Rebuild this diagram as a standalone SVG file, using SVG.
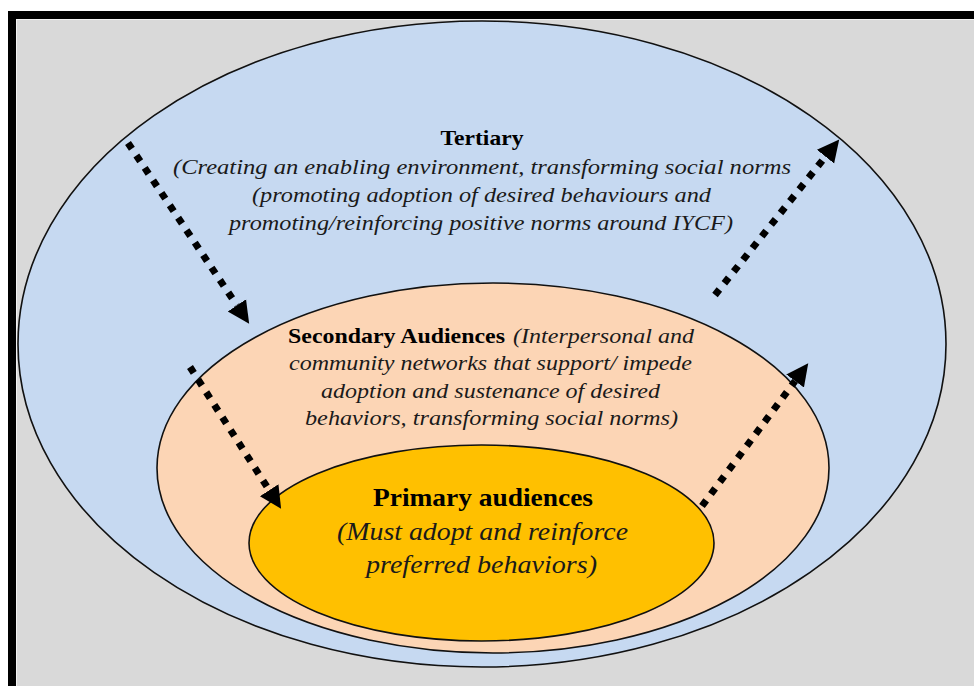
<svg xmlns="http://www.w3.org/2000/svg" width="974" height="686" viewBox="0 0 974 686">
  <style>
    .ring { stroke: #111; stroke-width: 1.6; }
    .head { font-weight: bold; fill: #000; }
    .body { font-style: italic; fill: #1a1a1a; }
    .flow { fill: none; stroke: #000; stroke-width: 7; stroke-dasharray: 7 8; stroke-linecap: butt; marker-end: url(#tip); }
  </style>
  <defs>
    <marker id="tip" markerUnits="userSpaceOnUse" markerWidth="26" markerHeight="26" viewBox="0 -13 26 26" refX="0" refY="0" orient="auto">
      <path d="M0,-11 L22,0 L0,11 Z" fill="#000"/>
    </marker>
  </defs>

  <!-- page and frame -->
  <rect x="0" y="0" width="974" height="686" fill="#ffffff"/>
  <rect x="8" y="11" width="980" height="700" fill="#000000"/>
  <rect x="16" y="19" width="970" height="690" fill="#f2f2f2"/>
  <rect x="17" y="20" width="970" height="690" fill="#d9d9d9"/>

  <g font-family="'Liberation Serif', 'Times New Roman', Times, serif">
    <!-- tertiary ring -->
    <g id="tertiary">
      <ellipse class="ring" cx="482" cy="344" rx="464" ry="323" fill="#c6d9f1"/>
      <text class="head" x="482" y="145" font-size="22" text-anchor="middle" textLength="83" lengthAdjust="spacingAndGlyphs">Tertiary</text>
      <text class="body" x="173" y="174" font-size="22" textLength="618" lengthAdjust="spacingAndGlyphs">(Creating an enabling environment, transforming  social norms</text>
      <text class="body" x="252" y="202" font-size="22" textLength="459" lengthAdjust="spacingAndGlyphs">(promoting adoption of desired behaviours and</text>
      <text class="body" x="229" y="230" font-size="22" textLength="504" lengthAdjust="spacingAndGlyphs">promoting/reinforcing positive norms around IYCF)</text>
    </g>

    <!-- secondary ring -->
    <g id="secondary">
      <ellipse class="ring" cx="493" cy="468" rx="336" ry="185" fill="#fcd5b5"/>
      <text x="288" y="343" font-size="22">
        <tspan class="head" x="288" textLength="217" lengthAdjust="spacingAndGlyphs">Secondary Audiences</tspan>
        <tspan class="body" x="513" textLength="181" lengthAdjust="spacingAndGlyphs">(Interpersonal and</tspan>
      </text>
      <text class="body" x="289" y="370" font-size="22" textLength="403" lengthAdjust="spacingAndGlyphs">community networks that support/ impede</text>
      <text class="body" x="321" y="398" font-size="22" textLength="339" lengthAdjust="spacingAndGlyphs">adoption and sustenance of desired</text>
      <text class="body" x="305" y="425" font-size="22" textLength="373" lengthAdjust="spacingAndGlyphs">behaviors, transforming social norms)</text>
    </g>

    <!-- primary core -->
    <g id="primary">
      <ellipse class="ring" cx="481.5" cy="543" rx="232.5" ry="98" fill="#ffc000"/>
      <text class="head" x="373" y="506" font-size="25" textLength="220" lengthAdjust="spacingAndGlyphs">Primary audiences</text>
      <text class="body" x="337" y="540" font-size="25" textLength="291" lengthAdjust="spacingAndGlyphs">(Must adopt and reinforce</text>
      <text class="body" x="366" y="573" font-size="25" textLength="231" lengthAdjust="spacingAndGlyphs">preferred behaviors)</text>
    </g>
  </g>

  <!-- influence arrows -->
  <g id="connectors">
    <line class="flow" x1="128" y1="143" x2="236.9" y2="305.4"/>
    <line class="flow" x1="715" y1="295" x2="825.5" y2="156.6"/>
    <line class="flow" x1="190" y1="367" x2="269.2" y2="490.2"/>
    <line class="flow" x1="702" y1="506" x2="795.1" y2="381"/>
  </g>
</svg>
